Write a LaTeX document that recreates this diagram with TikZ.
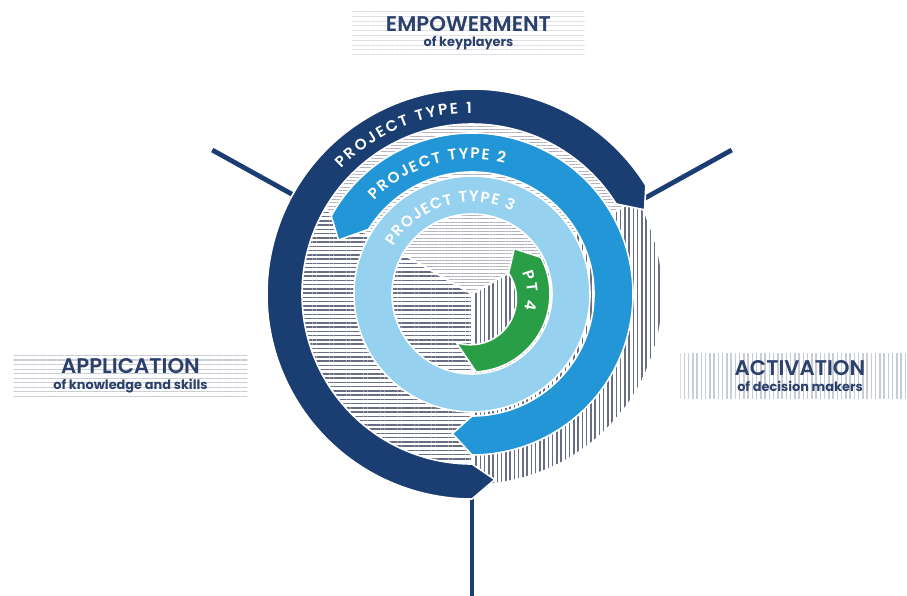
\documentclass[tikz,border=0pt]{standalone}
\usepackage{fontspec}
\setmainfont{Poppins}
\newfontfamily\popsemi{Poppins SemiBold}
\usetikzlibrary{decorations.text,patterns.meta}

\definecolor{ptnavy}{RGB}{26,61,114}
\definecolor{ptmid}{RGB}{34,150,214}
\definecolor{ptlight}{RGB}{150,209,240}
\definecolor{ptgreen}{RGB}{42,158,70}
\definecolor{hatchgray}{RGB}{105,109,132}
\definecolor{hatchlight}{RGB}{178,179,190}
\definecolor{boxgray}{RGB}{200,204,214}
\definecolor{labelblue}{RGB}{44,64,108}

\newcommand{\ringfont}{\color{white}\popsemi\fontsize{11.5}{13}\selectfont}
\newcommand{\titlefont}{\popsemi\fontsize{16}{18}\selectfont}
\newcommand{\subfont}{\bfseries\fontsize{9.7}{11}\selectfont}

\tikzset{
  ring/.style={draw=white, line width=1.2pt},
  split/.style={draw=ptnavy, line width=3.6pt},
  sectorH/.style={pattern={Lines[angle=0,distance=3.2pt,line width=1.1pt]}, pattern color=hatchgray},
  sectorV/.style={pattern={Lines[angle=90,distance=3.2pt,line width=1.1pt]}, pattern color=hatchgray},
  sectorTop/.style={pattern={Lines[angle=0,distance=2.4pt,line width=0.6pt]}, pattern color=hatchlight},
  tagbox/.style={text=labelblue, align=center, inner sep=0pt},
  ringtext/.style={decorate, decoration={text along path, text align=fit to path, text={|\ringfont|#1}}}
}

\begin{document}
\begin{tikzpicture}[x=0.02646cm, y=0.02646cm]
  \useasboundingbox (-472,-301) rectangle (435,294);

  % hatched sectors
  \fill[sectorTop] (0,0) -- (30:190) arc[start angle=30, end angle=150, radius=190] -- cycle;
  \fill[sectorH] (0,0) -- (150:190) arc[start angle=150, end angle=270, radius=190] -- cycle;
  \fill[sectorV] (0,0) -- (270:190) arc[start angle=270, end angle=390, radius=190] -- cycle;
  \foreach \a in {30,150,270}
    \draw[white, line width=1.5pt] (0,0) -- (\a:190);

  % dividing lines
  \coordinate (ulIn) at (151:200);
  \coordinate (ulOut) at (151:297);
  \coordinate (urIn) at (29:192);
  \coordinate (urOut) at (29:297);
  \coordinate (btIn) at (270:200);
  \coordinate (btOut) at (270:302);
  \draw[split] (ulIn) -- (ulOut);
  \draw[split] (urIn) -- (urOut);
  \draw[split] (btIn) -- (btOut);

  % project type 1
  \filldraw[ring, fill=ptnavy] (32:205) arc[start angle=32, end angle=270, radius=205]
    -- (277:187) -- (270:170) arc[start angle=270, end angle=32, radius=170] -- (26:192) -- cycle;
  % project type 2
  \filldraw[ring, fill=ptmid] (151:161) arc[start angle=151, end angle=-90, radius=161]
    -- (-98:141) -- (-90:122) arc[start angle=-90, end angle=148, radius=122] -- (158:144) -- cycle;
  % project type 3
  \filldraw[ring, fill=ptlight, even odd rule] (0,0) circle[radius=118] (0,0) circle[radius=80];
  % pt 4
  \filldraw[ring, fill=ptgreen] (28:78) arc[start angle=28, end angle=-87, radius=78]
    -- (-108:51) arc[start angle=-108, end angle=34, radius=46] -- (47:62) -- cycle;

  \path[ringtext={PROJECT TYPE 1}] (136:181) arc[start angle=136, end angle=90, radius=181];
  \path[ringtext={PROJECT TYPE 2}] (136:135) arc[start angle=136, end angle=76, radius=135];
  \path[ringtext={PROJECT TYPE 3}] (149:92) arc[start angle=149, end angle=64, radius=92];
  \path[ringtext={PT 4}] (23:55) arc[start angle=23, end angle=-16, radius=55];

  % labels
  \node[tagbox, minimum width=175pt, minimum height=36pt,
    pattern={Lines[angle=0,distance=3.6pt,line width=0.8pt]}, pattern color=boxgray!60]
    (emp) at (-3.5,261) {{\titlefont EMPOWERMENT}\\[-1pt]{\subfont of keyplayers}};
  \node[tagbox, minimum width=176pt, minimum height=35pt,
    pattern={Lines[angle=0,distance=3.4pt,line width=1pt]}, pattern color=boxgray]
    (app) at (-341.5,-82) {{\titlefont APPLICATION}\\[0pt]{\subfont of knowledge and skills}};
  \node[tagbox, minimum width=180pt, minimum height=34pt,
    pattern={Lines[angle=90,distance=3.2pt,line width=1pt]}, pattern color=boxgray]
    (act) at (328,-82) {{\titlefont ACTIVATION}\\[0pt]{\subfont of decision makers}};
\end{tikzpicture}
\end{document}
